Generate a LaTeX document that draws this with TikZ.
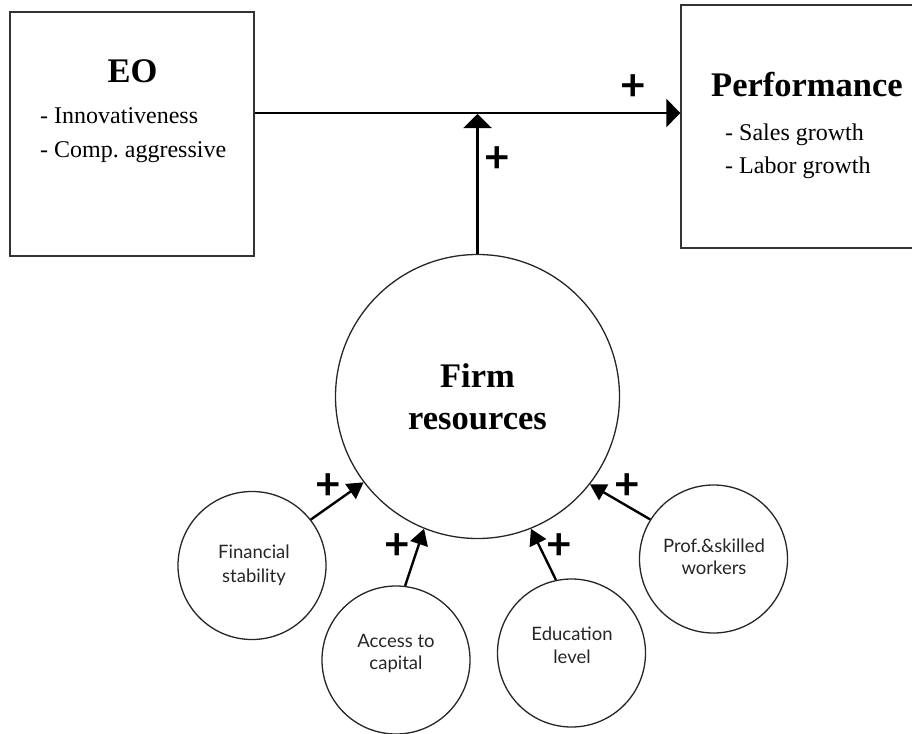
\documentclass[tikz,border=0pt]{standalone}
\usepackage{fontspec}
\setmainfont{Liberation Serif}
\newfontfamily\latofont{Lato}
\usetikzlibrary{arrows.meta,calc}

\begin{document}
\frenchspacing
\begin{tikzpicture}[x=1pt,y=-1pt,
  box/.style={draw=black!80,line width=1.3pt,inner sep=0pt},
  bigtitle/.style={font=\fontsize{34.5}{40}\selectfont\bfseries,inner sep=0pt,anchor=base},
  item/.style={font=\fontsize{24}{28}\selectfont,inner sep=0pt,anchor=base west},
  hub/.style={circle,draw=black!85,line width=1.3pt,minimum size=284pt,inner sep=0pt},
  factor/.style={circle,draw=black!85,line width=1.3pt,minimum size=148pt,inner sep=0pt},
  factortext/.style={font=\latofont\fontsize{18.5}{22}\selectfont,inner sep=0pt,anchor=base,text=black!85},
  plus/.style={font=\latofont\bfseries\fontsize{44}{44}\selectfont,inner sep=0pt},
  mainarrow/.style={line width=2.4pt,-{Triangle[length=14pt,width=28pt]}},
  feedarrow/.style={line width=2.4pt,-{Triangle[length=16pt,width=18pt]}}
]
\useasboundingbox (0,0) rectangle (912,733);

% construct boxes
\node[box,minimum width=244pt,minimum height=244pt] (eo) at (132,134) {};
\node[box,minimum width=234pt,minimum height=243pt] (perf) at (798,126.5) {};

\node[bigtitle] (eotitle) at (132.5,83) {EO};
\node[item] (eo1) at (40,124) {- Innovativeness};
\node[item] (eo2) at (40,157) {- Comp. aggressive};

\node[bigtitle,anchor=base west] (perftitle) at (711,97) {Performance};
\node[item] (perf1) at (725,140) {- Sales growth};
\node[item] (perf2) at (725,173) {- Labor growth};

% central moderator
\node[hub] (firm) at (477.5,396.5) {};
\node[bigtitle] (firm1) at (477.5,387) {Firm};
\node[bigtitle] (firm2) at (477.5,429) {resources};

% resource factors
\node[factor] (fin) at (252,565.5) {};
\node[factortext] (fin1) at (254,558) {Financial};
\node[factortext] (fin2) at (254,582) {stability};

\node[factor] (acc) at (396,660) {};
\node[factortext] (acc1) at (396,647) {Access to};
\node[factortext] (acc2) at (396,669) {capital};

\node[factor] (edu) at (571.5,653) {};
\node[factortext] (edu1) at (572,640) {Education};
\node[factortext] (edu2) at (572,663) {level};

\node[factor] (prof) at (713.5,559) {};
\node[factortext] (prof1) at (714,552) {Prof.\&skilled};
\node[factortext] (prof2) at (714,574) {workers};

% main effect and moderation
\draw[mainarrow] ([yshift=21pt]eo.east) -- ([yshift=13.5pt]perf.west);
\coordinate (join) at (477.5,113);
\draw[mainarrow] (firm.north) -- ([yshift=-1pt]join);

\node[plus] (p0) at (633,88) {+};
\node[plus] (p1) at (497,160) {+};

% factor effects on firm resources
\draw[feedarrow] (fin.38) -- (firm.217);
\draw[feedarrow] (acc.83) -- (firm.248);
\draw[feedarrow] (edu.102) -- (firm.292);
\draw[feedarrow] (prof.148) -- (firm.322);

\node[plus] (p2) at (328,487) {+};
\node[plus] (p3) at (397,547) {+};
\node[plus] (p4) at (559,547) {+};
\node[plus] (p5) at (627,487) {+};
\end{tikzpicture}
\end{document}
